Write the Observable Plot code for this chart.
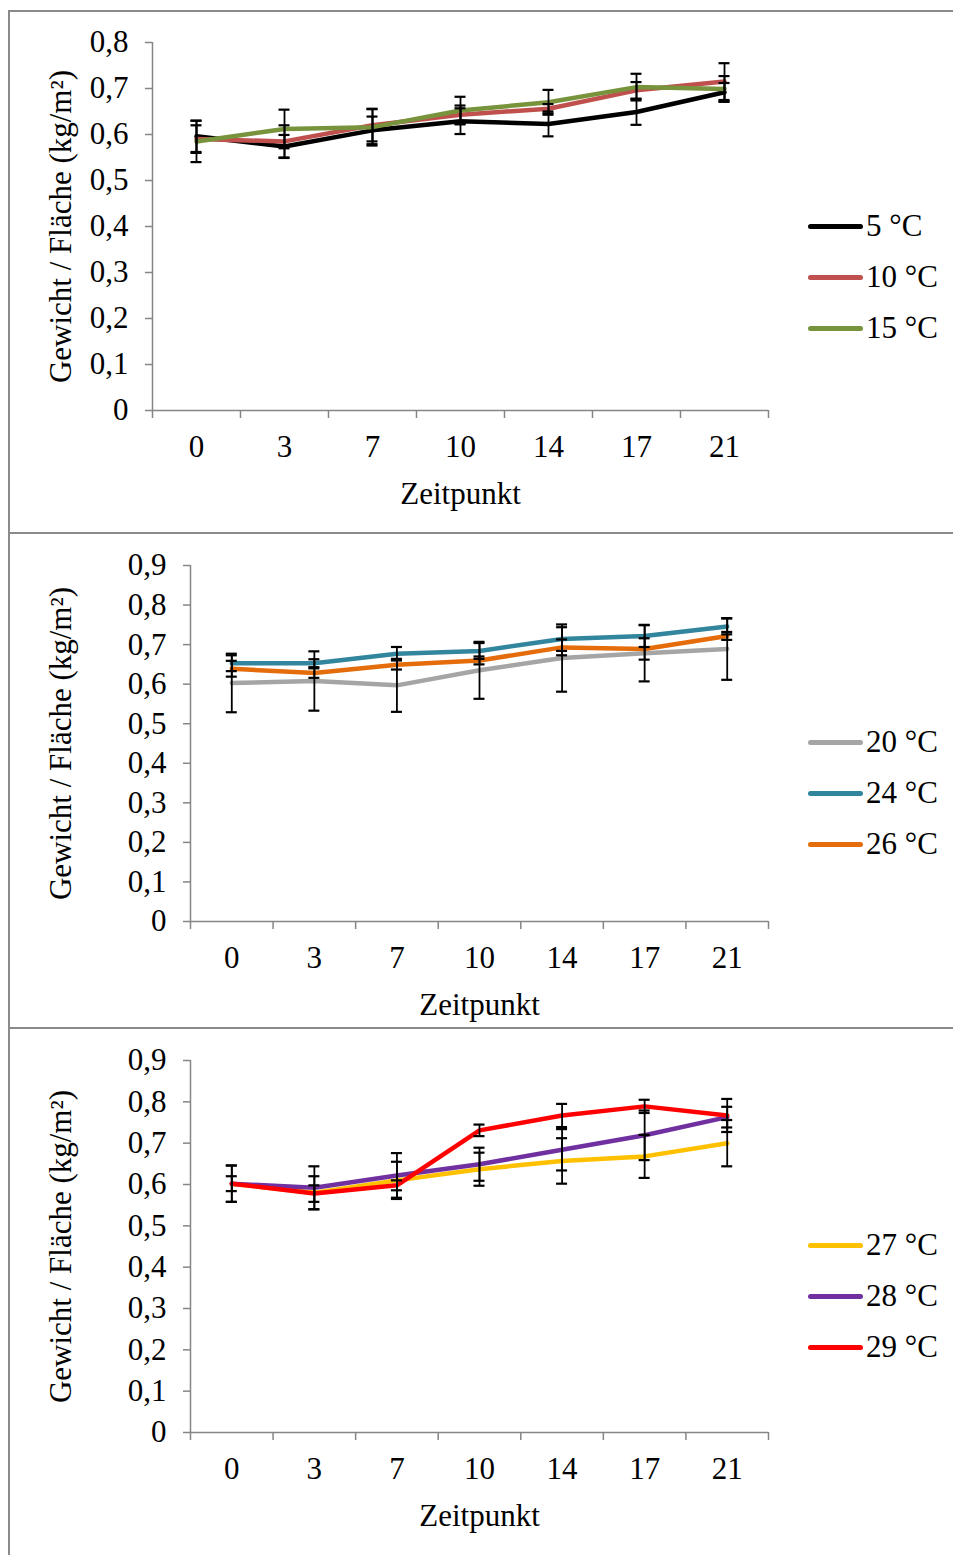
<!DOCTYPE html>
<html><head><meta charset="utf-8">
<script src="https://cdn.jsdelivr.net/npm/d3@7"></script>
<script src="https://cdn.jsdelivr.net/npm/@observablehq/plot@0.6"></script>
<style>
body{margin:0;background:#fff;width:953px;height:1555px;position:relative;overflow:hidden;font-family:"Liberation Serif","Times New Roman",serif;}
.frame{position:absolute;background:#8a8a8a;}
.panel{position:absolute;left:8px;}
.legend{position:absolute;left:808px;font-size:31px;color:#000;}
.legend .item{position:absolute;left:0;white-space:nowrap;display:flex;align-items:center;height:40px;transform:translateY(-50%);}
.legend .sw{width:55px;height:5px;border-radius:3px;margin-right:3px;}
</style></head><body>
<script>
// categories
const times = ["0","3","7","10","14","17","21"];
const yLabel = "Gewicht / Fläche (kg/m²)";
const xLabel = "Zeitpunkt";

// panel 1
const names1 = ["5 °C","10 °C","15 °C"];
const colors1 = ["#000000","#C0504D","#77933C"];
const mean5  = [0.596,0.574,0.609,0.629,0.623,0.649,0.692];
const err5   = [0.034,0.025,0.030,0.028,0.027,0.028,0.020];
const mean10 = [0.590,0.585,0.620,0.643,0.656,0.696,0.715];
const err10  = [0.030,0.035,0.035,0.020,0.010,0.018,0.040];
const mean15 = [0.585,0.612,0.616,0.652,0.670,0.703,0.699];
const err15  = [0.045,0.042,0.040,0.030,0.027,0.029,0.028];

// panel 2
const names2 = ["20 °C","24 °C","26 °C"];
const colors2 = ["#A5A5A5","#31859C","#E46C0A"];
const mean20 = [0.603,0.608,0.597,0.635,0.666,0.678,0.689];
const err20  = [0.074,0.075,0.067,0.072,0.085,0.071,0.078];
const mean24 = [0.653,0.653,0.677,0.684,0.714,0.722,0.746];
const err24  = [0.020,0.010,0.017,0.020,0.030,0.028,0.020];
const mean26 = [0.639,0.628,0.649,0.660,0.693,0.689,0.722];
const err26  = [0.020,0.012,0.012,0.010,0.020,0.027,0.010];

// panel 3
const names3 = ["27 °C","28 °C","29 °C"];
const colors3 = ["#FFC000","#7030A0","#FF0000"];
const mean27 = [0.602,0.580,0.610,0.637,0.657,0.668,0.700];
const err27  = [0.044,0.040,0.045,0.040,0.055,0.052,0.056];
const mean28 = [0.602,0.592,0.622,0.649,0.684,0.719,0.763];
const err28  = [0.044,0.052,0.054,0.040,0.050,0.060,0.025];
const mean29 = [0.602,0.578,0.598,0.731,0.767,0.789,0.767];
const err29  = [0.018,0.020,0.012,0.014,0.028,0.016,0.040];

const W = 945, MR = 185, AX = "#868686";
const fmt = d => d === 0 ? "0" : d.toFixed(1).replace(".", ",");

function rowsOf(names, means, errs) {
  const rows = [];
  names.forEach((s, k) => times.forEach((t, i) => rows.push({s, i, y: means[k][i], e: errs[k][i]})));
  return rows;
}

function panel({top, height, ymax, ml, mb, names, colors, means, errs, legendY, yLabelOffset}) {
  const rows = rowsOf(names, means, errs);
  const bw = (W - ml - MR) / times.length;
  const c = 5.5 / bw;
  const yt = d3.range(0, Math.round(ymax * 10) + 1).map(k => k / 10);
  const svg = Plot.plot({
    width: W, height, marginTop: 31, marginLeft: ml, marginRight: MR, marginBottom: mb,
    style: {fontFamily: "'Liberation Serif','Times New Roman',serif", fontSize: "31px", color: "#000", background: "transparent", overflow: "visible"},
    x: {domain: [-0.5, times.length - 0.5]},
    y: {domain: [0, ymax]},
    color: {domain: names, range: colors},
    marks: [
      Plot.ruleX([-0.5], {stroke: AX, strokeWidth: 1.5}),
      Plot.ruleY([0], {stroke: AX, strokeWidth: 1.5}),
      Plot.axisY({ticks: yt, tickSize: 7, tickPadding: 17, tickFormat: fmt, stroke: AX, strokeWidth: 1.5, fill: "#000",
        label: yLabel, labelAnchor: "center", labelOffset: yLabelOffset, labelArrow: "none"}),
      Plot.axisX({ticks: d3.range(-0.5, times.length, 1), tickSize: 8, tickFormat: () => "", stroke: AX, strokeWidth: 1.5, label: null}),
      Plot.axisX({ticks: d3.range(0, times.length), tickSize: 0, tickPadding: 24, tickFormat: i => times[i], fill: "#000",
        label: xLabel, labelAnchor: "center", labelOffset: 93, labelArrow: "none"}),
      Plot.line(rows, {x: "i", y: "y", z: "s", stroke: "s", strokeWidth: 4.5, strokeLinecap: "round", strokeLinejoin: "round"}),
      Plot.ruleX(rows, {x: "i", y1: d => d.y - d.e, y2: d => d.y + d.e, stroke: "#000", strokeWidth: 1.8}),
      Plot.ruleY(rows, {y: d => d.y + d.e, x1: d => d.i - c, x2: d => d.i + c, stroke: "#000", strokeWidth: 2.2}),
      Plot.ruleY(rows, {y: d => d.y - d.e, x1: d => d.i - c, x2: d => d.i + c, stroke: "#000", strokeWidth: 2.2})
    ]
  });
  const div = document.createElement("div");
  div.className = "panel";
  div.style.top = top + "px";
  div.appendChild(svg);
  document.body.appendChild(div);

  const leg = document.createElement("div");
  leg.className = "legend";
  leg.style.top = "0px";
  names.forEach((n, k) => {
    const it = document.createElement("div");
    it.className = "item";
    it.style.top = (legendY + k * 51) + "px";
    const sw = document.createElement("span");
    sw.className = "sw";
    sw.style.background = colors[k];
    const tx = document.createElement("span");
    tx.textContent = n;
    it.appendChild(sw); it.appendChild(tx);
    leg.appendChild(it);
  });
  document.body.appendChild(leg);
}

function frame(l, t, w, h) {
  const d = document.createElement("div");
  d.className = "frame";
  Object.assign(d.style, {left: l + "px", top: t + "px", width: w + "px", height: h + "px"});
  document.body.appendChild(d);
}

panel({top: 11, height: 522, ymax: 0.8, ml: 144, mb: 123, names: names1, colors: colors1,
  means: [mean5, mean10, mean15], errs: [err5, err10, err15], legendY: 226, yLabelOffset: 104});
panel({top: 534, height: 494, ymax: 0.9, ml: 182, mb: 107, names: names2, colors: colors2,
  means: [mean20, mean24, mean26], errs: [err20, err24, err26], legendY: 742, yLabelOffset: 142});
panel({top: 1029, height: 526, ymax: 0.9, ml: 182, mb: 123, names: names3, colors: colors3,
  means: [mean27, mean28, mean29], errs: [err27, err28, err29], legendY: 1245, yLabelOffset: 142});

frame(8, 10, 945, 2);
frame(8, 10, 2, 1545);
frame(8, 532, 945, 2);
frame(8, 1027, 945, 2);
</script>
</body></html>
